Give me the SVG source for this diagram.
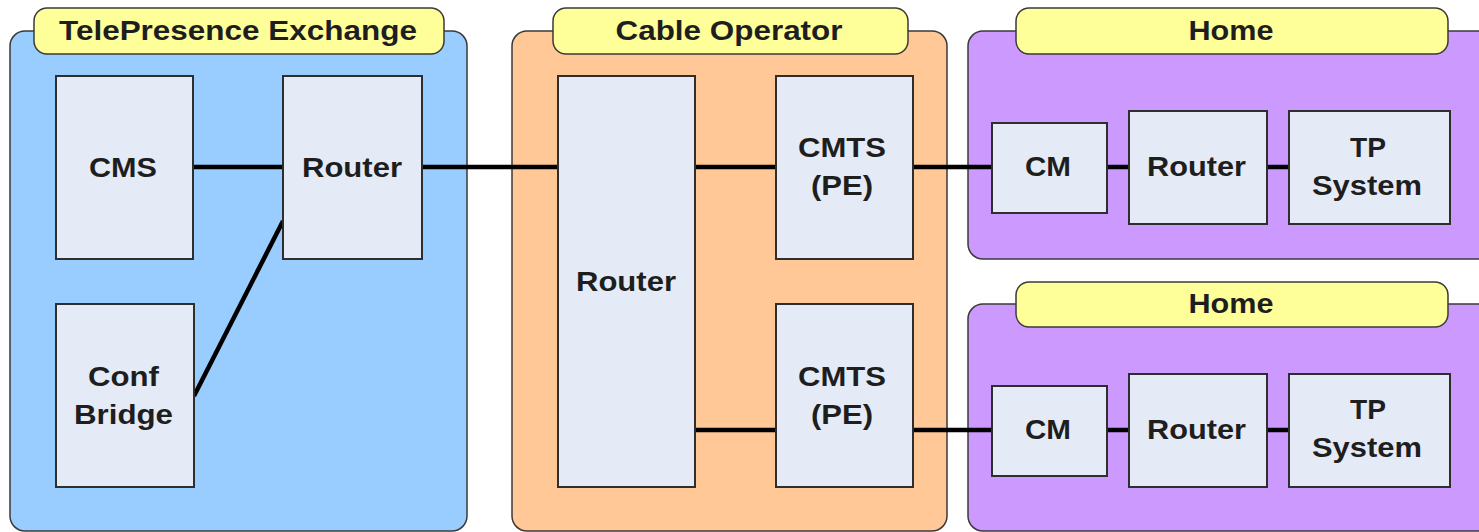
<svg xmlns="http://www.w3.org/2000/svg" width="1479" height="532" viewBox="0 0 1479 532">
  <style>
    .zone { stroke: #3a3a3a; stroke-width: 1.5; }
    .tpe { fill: #99CCFF; }
    .cable { fill: #FFC896; }
    .home { fill: #CC99FF; }
    .pill { fill: #FFFF99; stroke: #3a3a3a; stroke-width: 1.5; }
    .box { fill: #E5EBF6; stroke: #2e2e2e; stroke-width: 2; }
    .link { stroke: #000; stroke-width: 4.5; fill: none; }
    text { font-family: "Liberation Sans", Arial, sans-serif; font-weight: bold; font-size: 28px; fill: #1e1e1e; text-anchor: middle; }
  </style>
  <rect width="1479" height="532" fill="#ffffff"/>

  <!-- containers -->
  <g id="zone-telepresence">
    <rect class="zone tpe" x="10" y="31" width="457" height="500" rx="15"/>
    <rect class="pill" x="34" y="8" width="410" height="46" rx="13"/>
    <text x="238" y="40" textLength="358" lengthAdjust="spacingAndGlyphs">TelePresence Exchange</text>
  </g>
  <g id="zone-cable">
    <rect class="zone cable" x="512" y="31" width="435" height="500" rx="15"/>
    <rect class="pill" x="553" y="8" width="355" height="46" rx="13"/>
    <text x="729" y="40" textLength="227" lengthAdjust="spacingAndGlyphs">Cable Operator</text>
  </g>
  <g id="zone-home-1">
    <rect class="zone home" x="968" y="31" width="530" height="228" rx="15"/>
    <rect class="pill" x="1016" y="8" width="432" height="46" rx="13"/>
    <text x="1231" y="40" textLength="85" lengthAdjust="spacingAndGlyphs">Home</text>
  </g>
  <g id="zone-home-2">
    <rect class="zone home" x="968" y="304" width="530" height="227" rx="15"/>
    <rect class="pill" x="1016" y="282" width="432" height="45" rx="13"/>
    <text x="1231" y="313" textLength="85" lengthAdjust="spacingAndGlyphs">Home</text>
  </g>

  <!-- connectors -->
  <g id="connectors">
    <line class="link" x1="193" y1="167" x2="283" y2="167"/>
    <line class="link" x1="194" y1="396" x2="283" y2="221"/>
    <line class="link" x1="422" y1="167" x2="558" y2="167"/>
    <line class="link" x1="695" y1="167" x2="776" y2="167"/>
    <line class="link" x1="695" y1="430" x2="776" y2="430"/>
    <line class="link" x1="913" y1="167" x2="992" y2="167"/>
    <line class="link" x1="913" y1="430" x2="992" y2="430"/>
    <line class="link" x1="1107" y1="167" x2="1129" y2="167"/>
    <line class="link" x1="1267" y1="167" x2="1289" y2="167"/>
    <line class="link" x1="1107" y1="430" x2="1129" y2="430"/>
    <line class="link" x1="1267" y1="430" x2="1289" y2="430"/>
  </g>

  <!-- TelePresence Exchange nodes -->
  <g id="cms">
    <rect class="box" x="56" y="76" width="137" height="183"/>
    <text x="123" y="177" textLength="68" lengthAdjust="spacingAndGlyphs">CMS</text>
  </g>
  <g id="tpe-router">
    <rect class="box" x="283" y="76" width="139" height="183"/>
    <text x="352" y="177" textLength="100" lengthAdjust="spacingAndGlyphs">Router</text>
  </g>
  <g id="conf-bridge">
    <rect class="box" x="56" y="304" width="138" height="183"/>
    <text x="123.5" y="386" textLength="71" lengthAdjust="spacingAndGlyphs">Conf</text>
    <text x="123.5" y="424" textLength="99" lengthAdjust="spacingAndGlyphs">Bridge</text>
  </g>

  <!-- Cable Operator nodes -->
  <g id="cable-router">
    <rect class="box" x="558" y="76" width="137" height="411"/>
    <text x="626" y="291" textLength="100" lengthAdjust="spacingAndGlyphs">Router</text>
  </g>
  <g id="cmts-1">
    <rect class="box" x="776" y="76" width="137" height="183"/>
    <text x="842" y="157" textLength="88" lengthAdjust="spacingAndGlyphs">CMTS</text>
    <text x="842" y="195" textLength="62" lengthAdjust="spacingAndGlyphs">(PE)</text>
  </g>
  <g id="cmts-2">
    <rect class="box" x="776" y="304" width="137" height="183"/>
    <text x="842" y="386" textLength="88" lengthAdjust="spacingAndGlyphs">CMTS</text>
    <text x="842" y="424" textLength="62" lengthAdjust="spacingAndGlyphs">(PE)</text>
  </g>

  <!-- Home nodes -->
  <g id="cm-1">
    <rect class="box" x="992" y="123" width="115" height="90"/>
    <text x="1048" y="176" textLength="46" lengthAdjust="spacingAndGlyphs">CM</text>
  </g>
  <g id="home-router-1">
    <rect class="box" x="1129" y="111" width="138" height="113"/>
    <text x="1196.5" y="176" textLength="99" lengthAdjust="spacingAndGlyphs">Router</text>
  </g>
  <g id="tp-system-1">
    <rect class="box" x="1289" y="111" width="161" height="113"/>
    <text x="1368" y="157" textLength="36" lengthAdjust="spacingAndGlyphs">TP</text>
    <text x="1367" y="195" textLength="110" lengthAdjust="spacingAndGlyphs">System</text>
  </g>
  <g id="cm-2">
    <rect class="box" x="992" y="386" width="115" height="90"/>
    <text x="1048" y="439" textLength="46" lengthAdjust="spacingAndGlyphs">CM</text>
  </g>
  <g id="home-router-2">
    <rect class="box" x="1129" y="374" width="138" height="113"/>
    <text x="1196.5" y="439" textLength="99" lengthAdjust="spacingAndGlyphs">Router</text>
  </g>
  <g id="tp-system-2">
    <rect class="box" x="1289" y="374" width="161" height="113"/>
    <text x="1368" y="419" textLength="36" lengthAdjust="spacingAndGlyphs">TP</text>
    <text x="1367" y="457" textLength="110" lengthAdjust="spacingAndGlyphs">System</text>
  </g>
</svg>
